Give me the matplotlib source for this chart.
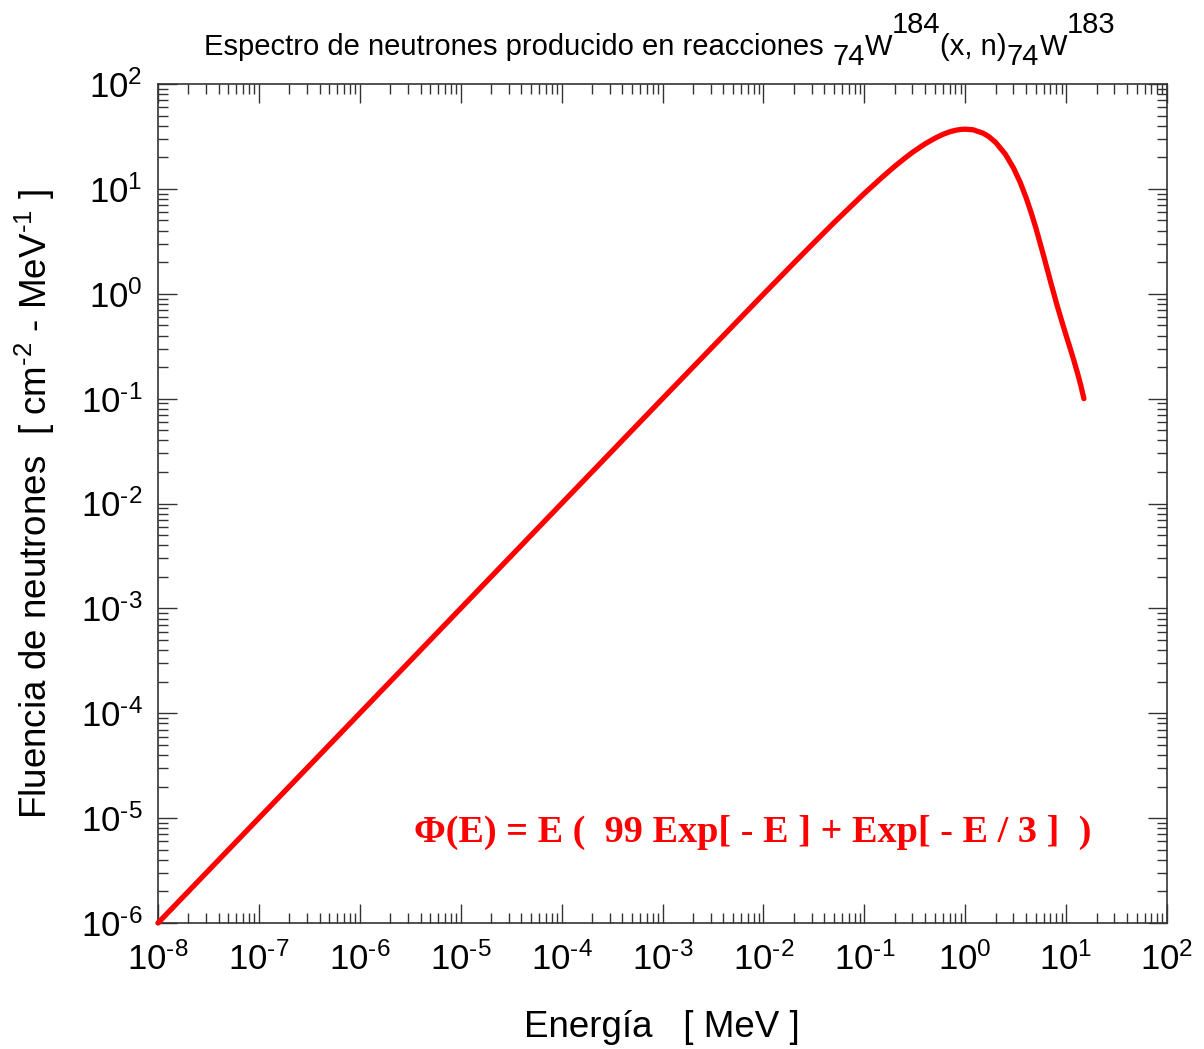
import numpy as np
import matplotlib
matplotlib.use("Agg")
import matplotlib.pyplot as plt
from matplotlib.ticker import LogLocator, FuncFormatter, NullFormatter

plt.rcParams['font.family'] = ['Liberation Sans', 'DejaVu Sans']
plt.rcParams['mathtext.fontset'] = 'custom'
plt.rcParams['mathtext.rm'] = 'Liberation Sans'
plt.rcParams['mathtext.it'] = 'Liberation Sans'
plt.rcParams['mathtext.bf'] = 'Liberation Sans:bold'

# energy [MeV] and fluence
energy = [1e-8, 1e-7, 1e-6, 1e-5, 1e-4, 1e-3, 1e-2, 0.02, 0.03, 0.05, 0.1,
          0.15, 0.2, 0.25, 0.3, 0.4, 0.5, 0.6, 0.7, 0.8, 0.9, 1.0, 1.2, 1.5,
          1.7, 2.0, 2.5, 3.0, 3.5, 4.0, 4.5, 5.0, 6.0, 7.0, 8.0, 9.0, 10.0,
          11.0, 12.0, 13.0, 14.0, 15.0]
fluence = [1e-6, 1e-5, 1e-4, 1e-3, 1e-2, 0.1, 0.99, 1.96, 2.91, 4.76, 9.05,
           12.9, 16.4, 19.5, 22.3, 26.9, 30.4, 33.1, 35.0, 36.2, 36.9, 37.1,
           36.6, 34.0, 31.7, 27.8, 21.4, 15.9, 11.6, 8.31, 5.95, 4.28, 2.28,
           1.31, 0.82, 0.558, 0.40, 0.299, 0.227, 0.1735, 0.133, 0.10]

x_decades = list(range(-8, 3))
y_decades = list(range(-6, 3))

title_parts = ["Espectro de neutrones producido en reacciones", "74", "W", "184",
               "(x, n)", "74", "W", "183"]
title_shift = [0, -10, 0, 22, 0, -10, 0, 22]

fig = plt.figure(figsize=(12.04, 10.49), dpi=100)
ax = fig.add_axes([0.1312, 0.1201, 0.8381, 0.7998])

ax.plot(energy, fluence, color='#ff0000', lw=3.8, solid_capstyle='round',
        solid_joinstyle='round', clip_on=False, zorder=3)

ax.set_xscale('log')
ax.set_yscale('log')
ax.set_xlim(10.0 ** x_decades[0], 10.0 ** x_decades[-1])
ax.set_ylim(10.0 ** y_decades[0], 10.0 ** y_decades[-1])

def decade_label(v, pos):
    n = int(round(np.log10(v)))
    if n < 0:
        return r"$10^{\text{-}%d}$" % (-n)
    return r"$10^{%d}$" % n

ax.xaxis.set_major_locator(LogLocator(base=10, numticks=20))
ax.yaxis.set_major_locator(LogLocator(base=10, numticks=20))
ax.xaxis.set_minor_locator(LogLocator(base=10, subs=np.arange(2, 10), numticks=20))
ax.yaxis.set_minor_locator(LogLocator(base=10, subs=np.arange(2, 10), numticks=20))
ax.xaxis.set_major_formatter(FuncFormatter(decade_label))
ax.yaxis.set_major_formatter(FuncFormatter(decade_label))
ax.xaxis.set_minor_formatter(NullFormatter())
ax.yaxis.set_minor_formatter(NullFormatter())

ax.tick_params(which='both', direction='in', top=True, right=True, color='#333333')
ax.tick_params(which='major', length=14, width=1.0, labelsize=25)
ax.tick_params(axis='x', which='major', pad=14)
ax.tick_params(axis='y', which='major', pad=11)
ax.tick_params(which='minor', length=7, width=1.0)
for s in ax.spines.values():
    s.set_linewidth(1.2)
    s.set_color('#333333')

ax.set_xlabel(u"Energía   [ MeV ]", fontsize=26.5, va='center')
ax.xaxis.set_label_coords(0.4995, -0.124)
ax.set_ylabel(r"Fluencia de neutrones  [ cm$^{\text{-}2}$ - MeV$^{\text{-}1}$ ]",
              fontsize=26.5, va='center')
ax.yaxis.set_label_coords(-0.122, 0.5)

# title built piece by piece so the sub/superscripts stay full size
fig.canvas.draw()
renderer = fig.canvas.get_renderer()
gap = 4
texts = []
widths = []
for part, dy in zip(title_parts, title_shift):
    t = fig.text(0, 0, part, fontsize=21, ha='left', va='baseline')
    widths.append(t.get_window_extent(renderer).width)
    texts.append(t)
total = sum(widths) + gap * 2
x0 = 660 - total / 2
base_y = 1049 - 55
for i, (t, dy) in enumerate(zip(texts, title_shift)):
    if i == 1:
        x0 += gap * 2
    t.set_transform(None)
    t.set_position((x0, base_y + dy))
    x0 += widths[i]

ax.text(0.589, 0.108, u"Φ(E) = E (  99 Exp[ - E ] + Exp[ - E / 3 ]  )",
        transform=ax.transAxes, ha='center', va='center', color='#ff0000',
        fontsize=27.5, fontweight='bold', family=['Liberation Serif', 'DejaVu Serif'])

fig.savefig("out.png", dpi=100)
